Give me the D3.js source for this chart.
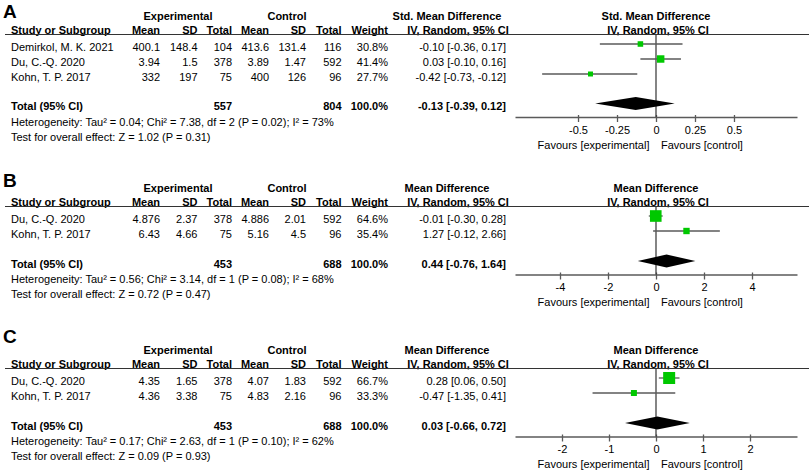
<!DOCTYPE html>
<html>

<head>
  <meta charset="utf-8">
  <title>Forest plots A-C</title>
  <style>
    body {
      margin: 0;
      background: #fff;
    }

    svg {
      display: block;
      font-family: "Liberation Sans", Arial, sans-serif;
      font-size: 11px;
    }

    svg .bold {
      font-weight: bold;
    }

    svg .panel-letter {
      font-size: 19px;
      font-weight: bold;
    }

    svg .ci-line {
      stroke: #5a5a5a;
      stroke-width: 1.3px;
    }

    svg .study-box {
      fill: #00c800;
    }

    svg .axis path,
    svg .axis line {
      stroke: #5a5a5a;
      stroke-width: 1.3px;
    }
  </style>
</head>

<body>
  <svg class="forest" width="809" height="472" viewBox="0 0 809 472"></svg>

  <script src="https://cdn.jsdelivr.net/npm/d3@7/dist/d3.min.js"></script>
  <script>
    // ---- data ----
    var studiesA = ['Demirkol, M. K. 2021', 'Du, C.-Q. 2020', 'Kohn, T. P. 2017'];
    var expMeanA = [400.1, 3.94, 332];
    var expSdA = [148.4, 1.5, 197];
    var expTotalA = [104, 378, 75];
    var ctlMeanA = [413.6, 3.89, 400];
    var ctlSdA = [131.4, 1.47, 126];
    var ctlTotalA = [116, 592, 96];
    var weightA = [30.8, 41.4, 27.7];
    var estA = [-0.10, 0.03, -0.42];
    var lowA = [-0.36, -0.10, -0.73];
    var highA = [0.17, 0.16, -0.12];
    var pooledA = [-0.13, -0.39, 0.12];
    var totalsA = [557, 804];
    var ticksA = [-0.5, -0.25, 0, 0.25, 0.5];
    var hetA = 'Heterogeneity: Tau\u00b2 = 0.04; Chi\u00b2 = 7.38, df = 2 (P = 0.02); I\u00b2 = 73%';
    var testA = 'Test for overall effect: Z = 1.02 (P = 0.31)';

    var studiesB = ['Du, C.-Q. 2020', 'Kohn, T. P. 2017'];
    var expMeanB = [4.876, 6.43];
    var expSdB = [2.37, 4.66];
    var expTotalB = [378, 75];
    var ctlMeanB = [4.886, 5.16];
    var ctlSdB = [2.01, 4.5];
    var ctlTotalB = [592, 96];
    var weightB = [64.6, 35.4];
    var estB = [-0.01, 1.27];
    var lowB = [-0.30, -0.12];
    var highB = [0.28, 2.66];
    var pooledB = [0.44, -0.76, 1.64];
    var totalsB = [453, 688];
    var ticksB = [-4, -2, 0, 2, 4];
    var hetB = 'Heterogeneity: Tau\u00b2 = 0.56; Chi\u00b2 = 3.14, df = 1 (P = 0.08); I\u00b2 = 68%';
    var testB = 'Test for overall effect: Z = 0.72 (P = 0.47)';

    var studiesC = ['Du, C.-Q. 2020', 'Kohn, T. P. 2017'];
    var expMeanC = [4.35, 4.36];
    var expSdC = [1.65, 3.38];
    var expTotalC = [378, 75];
    var ctlMeanC = [4.07, 4.83];
    var ctlSdC = [1.83, 2.16];
    var ctlTotalC = [592, 96];
    var weightC = [66.7, 33.3];
    var estC = [0.28, -0.47];
    var lowC = [0.06, -1.35];
    var highC = [0.50, 0.41];
    var pooledC = [0.03, -0.66, 0.72];
    var totalsC = [453, 688];
    var ticksC = [-2, -1, 0, 1, 2];
    var hetC = 'Heterogeneity: Tau\u00b2 = 0.17; Chi\u00b2 = 2.63, df = 1 (P = 0.10); I\u00b2 = 62%';
    var testC = 'Test for overall effect: Z = 0.09 (P = 0.93)';

    // ---- layout (pixels) ----
    var panels = [
      { letter: 'A', measure: 'Std. Mean Difference', top: 0, letterY: 17.5, extent: 0.904, gap: 29.5,
        studies: studiesA, cols: [expMeanA, expSdA, expTotalA, ctlMeanA, ctlSdA, ctlTotalA],
        weight: weightA, est: estA, low: lowA, high: highA, pooled: pooledA, totals: totalsA,
        ticks: ticksA, het: hetA, test: testA },
      { letter: 'B', measure: 'Mean Difference', top: 172, letterY: 187, extent: 5.875, gap: 30,
        studies: studiesB, cols: [expMeanB, expSdB, expTotalB, ctlMeanB, ctlSdB, ctlTotalB],
        weight: weightB, est: estB, low: lowB, high: highB, pooled: pooledB, totals: totalsB,
        ticks: ticksB, het: hetB, test: testB },
      { letter: 'C', measure: 'Mean Difference', top: 334, letterY: 342.5, extent: 3.0, gap: 30,
        studies: studiesC, cols: [expMeanC, expSdC, expTotalC, ctlMeanC, ctlSdC, ctlTotalC],
        weight: weightC, est: estC, low: lowC, high: highC, pooled: pooledC, totals: totalsC,
        ticks: ticksC, het: hetC, test: testC }
    ];

    var colRight = [160, 197.5, 232, 269, 306, 341.5];
    var colHeads = ['Mean', 'SD', 'Total', 'Mean', 'SD', 'Total'];
    var weightRight = 388;
    var estRight = 506;
    var plotRange = [515, 797];

    var fmt2 = d3.format('.2f');
    var fmt1 = d3.format('.1f');
    function num(v) { return fmt2(v).replace('\u2212', '-'); }
    function ciText(e, l, h) { return num(e) + ' [' + num(l) + ', ' + num(h) + ']'; }

    var svg = d3.select('svg.forest');
    var boxSize = d3.scaleLinear().domain([0, 100]).range([0, 18]);

    panels.forEach(drawPanel);

    function addText(g, x, y, str, anchor, cls) {
      return g.append('text')
        .attr('x', x)
        .attr('y', y)
        .attr('text-anchor', anchor || 'start')
        .attr('class', cls || null)
        .text(str);
    }

    function drawPanel(p) {
      var g = svg.append('g').attr('class', 'panel-' + p.letter);
      var top = p.top;
      var n = p.studies.length;

      // baseline of each study row
      var rowY = d3.scaleLinear().domain([0, 1]).range([top + 50.5, top + 65.5]);
      var totalY = rowY(n - 1) + p.gap;
      var axisY = totalY + 7;

      var x = d3.scaleLinear()
        .domain([-p.extent, p.extent])
        .range(plotRange);

      addText(g, 3, p.letterY, p.letter, 'start', 'panel-letter');

      // header rows
      addText(g, 178, top + 19.5, 'Experimental', 'middle', 'bold');
      addText(g, 287, top + 19.5, 'Control', 'middle', 'bold');
      addText(g, 447, top + 19.5, p.measure, 'middle', 'bold');
      addText(g, x(0), top + 19.5, p.measure, 'middle', 'bold');

      addText(g, 11, top + 33.5, 'Study or Subgroup', 'start', 'bold');
      colHeads.forEach(function(h, i) {
        addText(g, colRight[i], top + 33.5, h, 'end', 'bold');
      });
      addText(g, weightRight, top + 33.5, 'Weight', 'end', 'bold');
      addText(g, 458, top + 33.5, 'IV, Random, 95% CI', 'middle', 'bold');
      addText(g, x(0) + 2, top + 33.5, 'IV, Random, 95% CI', 'middle', 'bold');

      g.append('line')
        .attr('x1', 5).attr('x2', 809)
        .attr('y1', top + 34.5).attr('y2', top + 34.5)
        .attr('stroke', '#333')
        .attr('stroke-width', 1);

      // study rows
      p.studies.forEach(function(s, i) {
        var y = rowY(i);
        addText(g, 11, y, s);
        p.cols.forEach(function(col, c) {
          addText(g, colRight[c], y, String(col[i]), 'end');
        });
        addText(g, weightRight, y, fmt1(p.weight[i]) + '%', 'end');
        addText(g, estRight, y, ciText(p.est[i], p.low[i], p.high[i]), 'end');
      });

      // totals
      addText(g, 11, totalY, 'Total (95% CI)', 'start', 'bold');
      addText(g, colRight[2], totalY, String(p.totals[0]), 'end', 'bold');
      addText(g, colRight[5], totalY, String(p.totals[1]), 'end', 'bold');
      addText(g, weightRight, totalY, '100.0%', 'end', 'bold');
      addText(g, estRight, totalY, ciText(p.pooled[0], p.pooled[1], p.pooled[2]), 'end', 'bold');
      addText(g, 11, totalY + 15.5, p.het);
      addText(g, 11, totalY + 30.5, p.test);

      // axis
      var axis = g.append('g')
        .attr('class', 'axis')
        .attr('transform', 'translate(0,' + axisY + ')')
        .call(d3.axisBottom(x)
          .tickValues(p.ticks)
          .tickSizeOuter(0)
          .tickSizeInner(5)
          .tickFormat(function(d) { return String(d); }));
      axis.selectAll('.tick line').attr('y1', -2);
      axis.selectAll('.tick text')
        .attr('y', 16.5)
        .attr('dy', null)
        .attr('fill', '#000')
        .style('font-family', '"Liberation Sans", Arial, sans-serif')
        .style('font-size', '11px');

      addText(g, x(0) - 6.5, axisY + 31.5, 'Favours [experimental]', 'end');
      addText(g, x(0) + 5, axisY + 31.5, 'Favours [control]', 'start');

      // zero line
      g.append('line')
        .attr('x1', x(0)).attr('x2', x(0))
        .attr('y1', top + 34.5).attr('y2', axisY)
        .attr('stroke', '#333')
        .attr('stroke-width', 1.2);

      // CIs and boxes
      p.studies.forEach(function(s, i) {
        var cy = rowY(i) - 6.5;
        g.append('line')
          .attr('class', 'ci-line')
          .attr('x1', x(p.low[i])).attr('x2', x(p.high[i]))
          .attr('y1', cy).attr('y2', cy);
        var side = boxSize(p.weight[i]);
        g.append('rect')
          .attr('class', 'study-box')
          .attr('x', x(p.est[i]) - side / 2)
          .attr('y', cy - side / 2)
          .attr('width', side)
          .attr('height', side);
      });

      // pooled diamond
      var dy = totalY - 6.5;
      var diamond = [
        [x(p.pooled[1]), dy],
        [x(p.pooled[0]), dy - 6.5],
        [x(p.pooled[2]), dy],
        [x(p.pooled[0]), dy + 6.5]
      ];
      g.append('path')
        .attr('d', d3.line()(diamond) + 'Z')
        .attr('fill', '#000');
    }
  </script>
</body>

</html>
